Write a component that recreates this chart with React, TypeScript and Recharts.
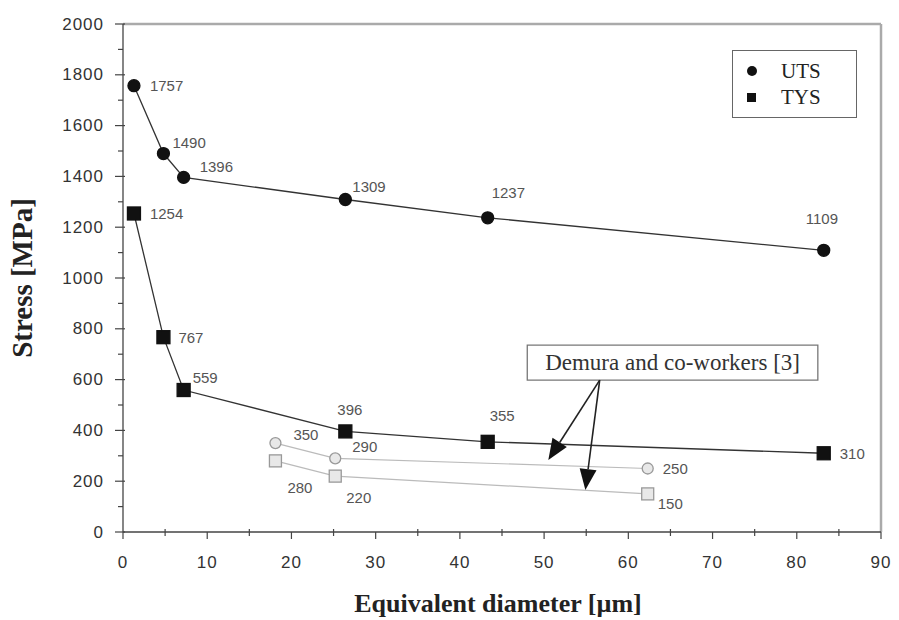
import React from "react";
import {
  ComposedChart,
  Line,
  XAxis,
  YAxis,
  ReferenceLine,
  ReferenceArea,
  LabelList,
  Legend,
} from "recharts";

// values
const DIAMETER = [1.3, 4.8, 7.2, 26.4, 43.3, 83.2];
const UTS = [1757, 1490, 1396, 1309, 1237, 1109];
const TYS = [1254, 767, 559, 396, 355, 310];
const DEMURA_DIAMETER = [18.1, 25.2, 62.3];
const DEMURA_UTS = [350, 290, 250];
const DEMURA_TYS = [280, 220, 150];
const X_TICKS = [0, 5, 10, 15, 20, 25, 30, 35, 40, 45, 50, 55, 60, 65, 70, 75, 80, 85, 90];
const Y_TICKS = [0, 100, 200, 300, 400, 500, 600, 700, 800, 900, 1000, 1100, 1200, 1300, 1400, 1500, 1600, 1700, 1800, 1900, 2000];
const NOTE = "Demura and co-workers [3]";

const utsData = DIAMETER.map((x, i) => ({ x, y: UTS[i] }));
const tysData = DIAMETER.map((x, i) => ({ x, y: TYS[i] }));
const demUtsData = DEMURA_DIAMETER.map((x, i) => ({ x, y: DEMURA_UTS[i] }));
const demTysData = DEMURA_DIAMETER.map((x, i) => ({ x, y: DEMURA_TYS[i] }));

// label offsets (px) per point: [dx, dy]
const UTS_LBL = [[16, 0], [9, -11], [16, -11], [7, -13], [4, -25], [-18, -32]];
const TYS_LBL = [[16, 0], [15, 0], [9, -13], [-8, -22], [2, -26], [16, 0]];
const DEM_UTS_LBL = [[18, -9], [17, -12], [15, 0]];
const DEM_TYS_LBL = [[12, 27], [11, 21], [10, 10]];

const SANS = "'Liberation Sans', Arial, sans-serif";
const SERIF = "'Liberation Serif', 'Times New Roman', serif";

const labelContent = (offsets: number[][]) => (p: any) => {
  const [dx, dy] = offsets[p.index] ?? [0, 0];
  return (
    <text
      x={p.x + dx}
      y={p.y + dy}
      fontFamily={SANS}
      fontSize={15}
      fill="#555"
      dominantBaseline="central"
    >
      {p.value}
    </text>
  );
};

const circleDot = (fill: string, stroke: string, r: number) => (p: any) => (
  <circle key={p.index} cx={p.cx} cy={p.cy} r={r} fill={fill} stroke={stroke} strokeWidth={1.3} />
);
const squareDot = (fill: string, stroke: string, s: number) => (p: any) => (
  <rect
    key={p.index}
    x={p.cx - s / 2}
    y={p.cy - s / 2}
    width={s}
    height={s}
    fill={fill}
    stroke={stroke}
    strokeWidth={1.3}
  />
);

const XTick = (p: any) => {
  const v = p.payload.value;
  const major = v % 10 === 0;
  return (
    <g>
      <line x1={p.x} x2={p.x} y1={p.y - (major ? 0 : 3)} y2={p.y + (major ? 7 : 4)} stroke="#444" strokeWidth={1.2} />
      {major && (
        <text
          x={p.x}
          y={p.y + 36}
          textAnchor="middle"
          fontFamily={SANS}
          fontSize={17}
          letterSpacing={1}
          fill="#333"
        >
          {v}
        </text>
      )}
    </g>
  );
};

const YTick = (p: any) => {
  const v = p.payload.value;
  const major = v % 200 === 0;
  return (
    <g>
      <line x1={p.x - (major ? 8 : 5)} x2={p.x + (major ? 2 : 0)} y1={p.y} y2={p.y} stroke="#444" strokeWidth={1.2} />
      {major && (
        <text
          x={p.x - 19}
          y={p.y}
          textAnchor="end"
          dominantBaseline="central"
          fontFamily={SANS}
          fontSize={17}
          letterSpacing={1}
          fill="#333"
        >
          {v}
        </text>
      )}
    </g>
  );
};

const Arrow = (p: any) => {
  const { x1, y1, x2, y2 } = p;
  const ang = Math.atan2(y2 - y1, x2 - x1);
  const len = 21;
  const half = 8.5;
  const bx = x2 - len * Math.cos(ang);
  const by = y2 - len * Math.sin(ang);
  const nx = -Math.sin(ang) * half;
  const ny = Math.cos(ang) * half;
  return (
    <g>
      <line x1={x1} y1={y1} x2={bx} y2={by} stroke="#222" strokeWidth={1.6} />
      <polygon points={`${x2},${y2} ${bx + nx},${by + ny} ${bx - nx},${by - ny}`} fill="#111" />
    </g>
  );
};

const LegendBox = () => (
  <div
    style={{
      width: 125,
      height: 68,
      border: "1px solid #666",
      background: "#fff",
      boxSizing: "border-box",
      fontFamily: SERIF,
      fontSize: 21,
      color: "#222",
      padding: "7px 0 0 14px",
      lineHeight: "26px",
    }}
  >
    <div style={{ display: "flex", alignItems: "center" }}>
      <span style={{ display: "inline-block", width: 10, height: 10, borderRadius: 5, background: "#111", marginRight: 24 }} />
      UTS
    </div>
    <div style={{ display: "flex", alignItems: "center" }}>
      <span style={{ display: "inline-block", width: 9, height: 9, background: "#111", marginRight: 25 }} />
      TYS
    </div>
  </div>
);

export default function App() {
  return (
    <div style={{ position: "absolute", left: 0, top: 0, background: "#fff" }}>
      <ComposedChart width={899} height={620} margin={{ top: 24, right: 18, left: 0, bottom: 0 }}>
        <XAxis
          dataKey="x"
          type="number"
          domain={[0, 90]}
          ticks={X_TICKS}
          interval={0}
          height={88}
          tickSize={0}
          tickMargin={0}
          tickLine={false}
          tick={<XTick />}
          stroke="#444"
          strokeWidth={1.3}
          label={{
            content: (p: any) => (
              <text
                x={p.viewBox.x + p.viewBox.width / 2 - 4}
                y={p.viewBox.y + 80}
                textAnchor="middle"
                fontFamily={SERIF}
                fontWeight="bold"
                fontSize={26}
                fill="#222"
              >
                Equivalent diameter [µm]
              </text>
            ),
          }}
        />
        <YAxis
          type="number"
          domain={[0, 2000]}
          ticks={Y_TICKS}
          interval={0}
          width={123}
          tickSize={0}
          tickMargin={0}
          tickLine={false}
          tick={<YTick />}
          stroke="#444"
          strokeWidth={1.3}
          label={{
            content: (p: any) => {
              const cx = p.viewBox.x + 22;
              const cy = p.viewBox.y + p.viewBox.height / 2;
              return (
                <text
                  x={cx}
                  y={cy}
                  transform={`rotate(-90 ${cx} ${cy})`}
                  textAnchor="middle"
                  dominantBaseline="central"
                  fontFamily={SERIF}
                  fontWeight="bold"
                  fontSize={29}
                  fill="#222"
                >
                  Stress [MPa]
                </text>
              );
            },
          }}
        />
        <ReferenceLine y={2000} stroke="#aaa" strokeWidth={2.5} />
        <ReferenceLine x={90} stroke="#aaa" strokeWidth={2.5} />

        <Line
          data={demUtsData}
          dataKey="y"
          stroke="#bbb"
          strokeWidth={1.2}
          dot={circleDot("#e8e8e8", "#999", 5.5)}
          legendType="none"
          isAnimationActive={false}
        >
          <LabelList dataKey="y" content={labelContent(DEM_UTS_LBL)} />
        </Line>
        <Line
          data={demTysData}
          dataKey="y"
          stroke="#bbb"
          strokeWidth={1.2}
          dot={squareDot("#e8e8e8", "#999", 12)}
          legendType="none"
          isAnimationActive={false}
        >
          <LabelList dataKey="y" content={labelContent(DEM_TYS_LBL)} />
        </Line>
        <Line
          data={utsData}
          dataKey="y"
          name="UTS"
          stroke="#333"
          strokeWidth={1.3}
          dot={circleDot("#111", "#111", 6)}
          isAnimationActive={false}
        >
          <LabelList dataKey="y" content={labelContent(UTS_LBL)} />
        </Line>
        <Line
          data={tysData}
          dataKey="y"
          name="TYS"
          stroke="#333"
          strokeWidth={1.3}
          dot={squareDot("#111", "#111", 13)}
          isAnimationActive={false}
        >
          <LabelList dataKey="y" content={labelContent(TYS_LBL)} />
        </Line>

        <ReferenceArea
          x1={48}
          x2={82.5}
          y1={598}
          y2={736}
          fill="#fff"
          fillOpacity={1}
          stroke="#777"
          strokeWidth={1.3}
          label={{
            content: (p: any) => (
              <text
                x={p.viewBox.x + p.viewBox.width / 2}
                y={p.viewBox.y + p.viewBox.height / 2}
                textAnchor="middle"
                dominantBaseline="central"
                fontFamily={SERIF}
                fontSize={23}
                fill="#333"
              >
                {NOTE}
              </text>
            ),
          }}
        />
        <ReferenceLine segment={[{ x: 56.6, y: 598 }, { x: 50.5, y: 283 }]} shape={Arrow} />
        <ReferenceLine segment={[{ x: 56.6, y: 598 }, { x: 54.9, y: 165 }]} shape={Arrow} />

        <Legend
          layout="horizontal"
          verticalAlign="middle"
          align="center"
          content={<LegendBox />}
          wrapperStyle={{ left: 732, top: 50, width: 125, height: 68 }}
        />
      </ComposedChart>
    </div>
  );
}
